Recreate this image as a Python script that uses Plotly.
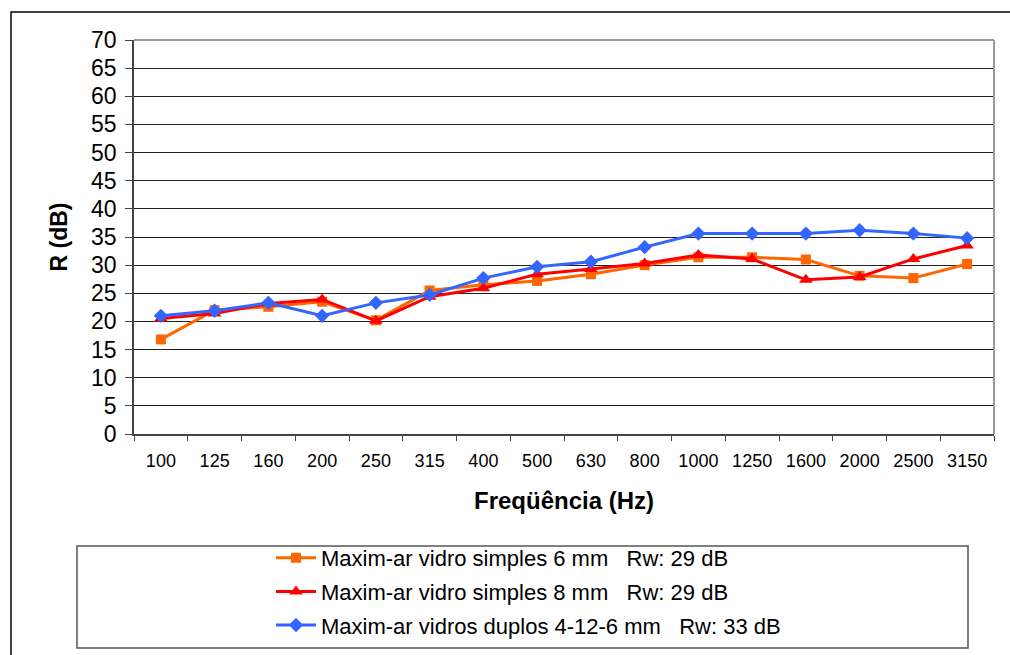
import plotly.graph_objects as go

# Frequency bands (Hz) and sound reduction index R (dB)
freqs = ["100", "125", "160", "200", "250", "315", "400", "500",
         "630", "800", "1000", "1250", "1600", "2000", "2500", "3150"]
r_simples_6mm = [16.8, 22.0, 22.6, 23.5, 20.2, 25.5, 26.5, 27.2,
                 28.4, 30.0, 31.4, 31.4, 31.0, 28.1, 27.7, 30.2]
r_simples_8mm = [20.5, 21.4, 23.2, 23.9, 20.1, 24.4, 25.9, 28.4,
                 29.3, 30.3, 31.8, 31.1, 27.4, 27.9, 31.1, 33.5]
r_duplos = [21.0, 21.9, 23.3, 21.0, 23.3, 24.7, 27.7, 29.7,
            30.6, 33.2, 35.6, 35.6, 35.6, 36.2, 35.6, 34.8]

series = [
    ("Maxim-ar vidro simples 6 mm\u00a0\u00a0\u00a0Rw: 29 dB", r_simples_6mm,
     "#FF6600", "square", 10),
    ("Maxim-ar vidro simples 8 mm\u00a0\u00a0\u00a0Rw: 29 dB", r_simples_8mm,
     "#FF0000", "triangle-up", 12),
    ("Maxim-ar vidros duplos 4-12-6 mm\u00a0\u00a0\u00a0Rw: 33 dB", r_duplos,
     "#3366FF", "diamond", 11),
]

fig = go.Figure()
for i, (name, vals, color, symbol, size) in enumerate(series):
    fig.add_trace(go.Scatter(
        x=freqs, y=vals, name=name, mode="lines+markers",
        line=dict(color=color, width=3),
        marker=dict(symbol=symbol, size=size, color=color),
        legendgroup=f"g{i}",
    ))

W, H = 1010, 655
L, R, T, B = 134, 16, 40, 221
pw, ph = W - L - R, H - T - B

def px(x):
    return (x - L) / pw

def py(y):
    return (H - B - y) / ph

fig.update_layout(
    width=W, height=H,
    margin=dict(l=L, r=R, t=T, b=B, autoexpand=False),
    paper_bgcolor="white", plot_bgcolor="white",
    font=dict(family="Liberation Sans, Arial, sans-serif", color="black"),
    showlegend=True,
    legend=dict(
        x=px(271), y=py(537), xanchor="left", yanchor="top",
        font=dict(size=22, color="black"),
        bgcolor="rgba(0,0,0,0)", borderwidth=0,
        traceorder="grouped", tracegroupgap=2,
        itemwidth=40,
    ),
    xaxis=dict(
        type="category", range=[-0.5, 15.5],
        showgrid=False, showline=True, linecolor="#444", linewidth=1.5,
        ticks="outside", tickson="boundaries", ticklen=5, tickcolor="#444",
        tickfont=dict(size=18), ticklabelstandoff=10, automargin=False,
        title=dict(text="<b>Freqüência (Hz)</b>", font=dict(size=24), standoff=22),
    ),
    yaxis=dict(
        range=[0, 70], dtick=5,
        showgrid=True, gridcolor="#222", gridwidth=1,
        showline=True, linecolor="#444", linewidth=1.5,
        ticks="outside", ticklen=7, tickcolor="#444",
        tickfont=dict(size=23), ticklabelstandoff=4, zeroline=False,
        automargin=False,
        title=dict(text="<b>R (dB)</b>", font=dict(size=23), standoff=17),
    ),
    shapes=[
        # gray frame on top/right of the plot area
        dict(type="line", xref="paper", yref="paper", x0=0, x1=1, y0=1, y1=1,
             line=dict(color="#999", width=2)),
        dict(type="line", xref="paper", yref="paper", x0=1, x1=1, y0=0, y1=1,
             line=dict(color="#999", width=2)),
        # legend box
        dict(type="rect", xref="paper", yref="paper",
             x0=px(77), x1=px(968), y0=py(648), y1=py(546),
             line=dict(color="#555", width=1.5)),
        # outer chart border
        dict(type="rect", xref="paper", yref="paper",
             x0=px(11), x1=px(1030), y0=py(680), y1=py(12),
             line=dict(color="black", width=1.5)),
    ],
)

fig.write_html("out.html")
